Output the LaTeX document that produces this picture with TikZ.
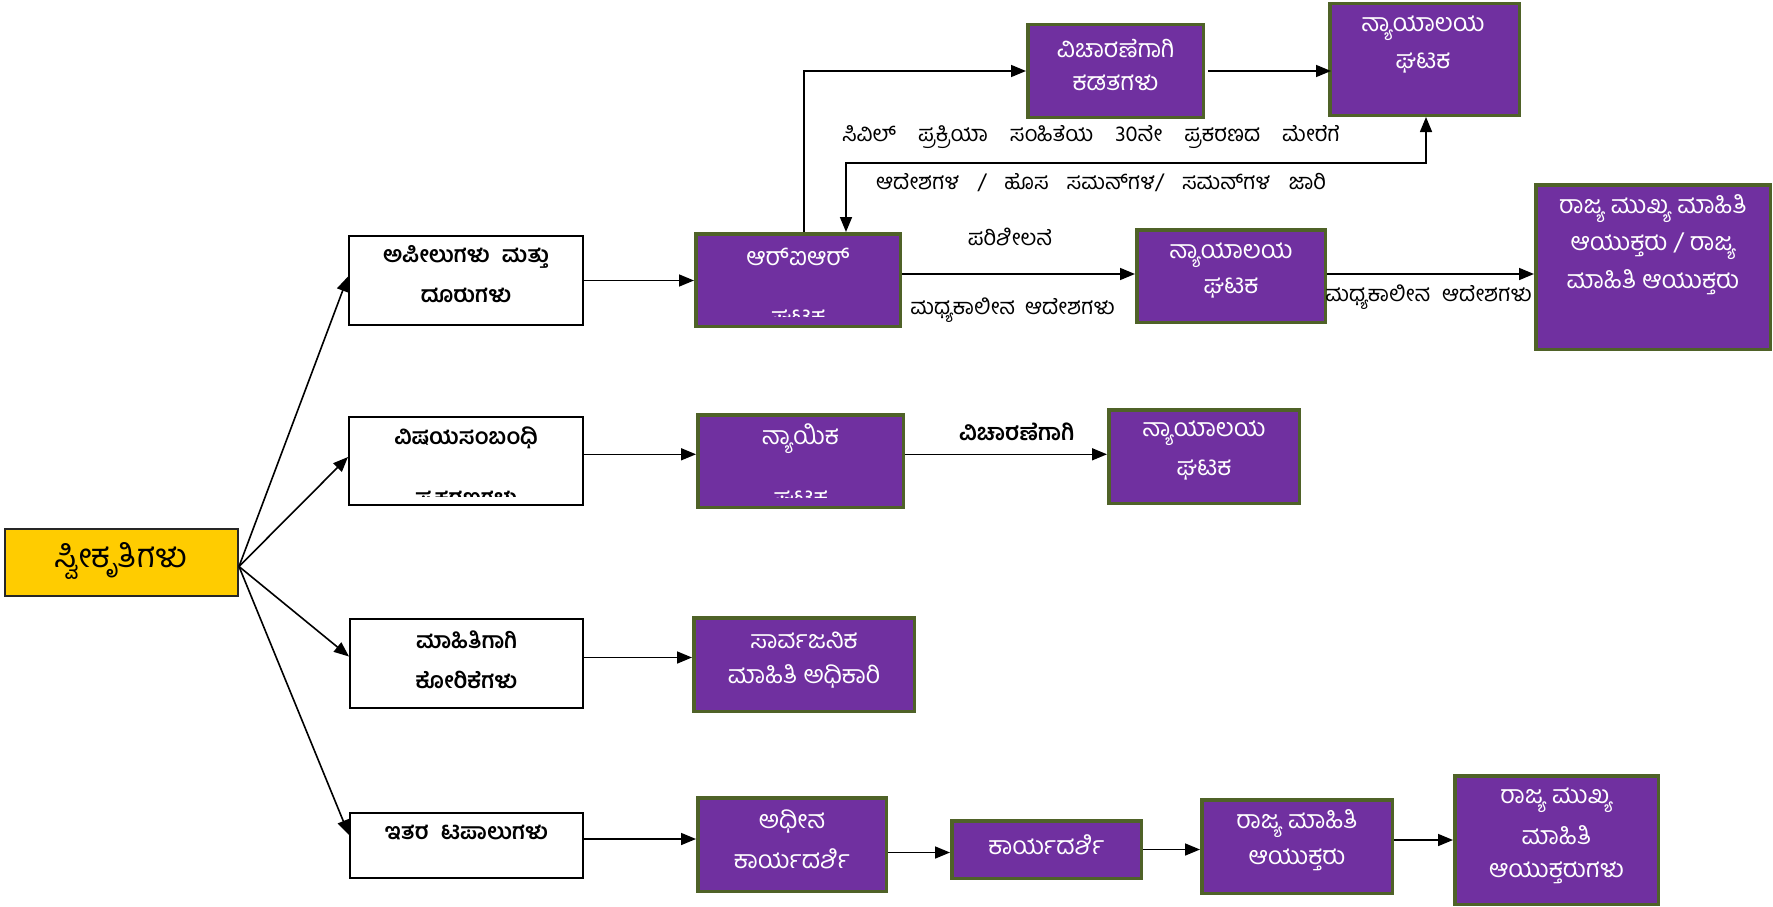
\documentclass[tikz,border=0pt]{standalone}
\usepackage{fontspec}
\newfontfamily\kn[Script=Kannada]{Hind Mysuru}
\newcommand\wordsp[1]{\spaceskip #1\relax}
\usetikzlibrary{arrows.meta,calc}
\definecolor{purp}{HTML}{7030A0}
\definecolor{olivebd}{HTML}{4F6228}
\definecolor{gold}{HTML}{FFCC00}
\begin{document}
\begin{tikzpicture}[x=1pt,y=-1pt,
  wbox/.style={draw=black,line width=1.8pt,fill=white,rectangle,inner sep=0pt},
  pbox/.style={draw=olivebd,line width=3.5pt,fill=purp,rectangle,inner sep=0pt},
  ybox/.style={draw=black!85,line width=1.8pt,fill=gold,rectangle,inner sep=0pt},
  ptx/.style={text=white,font={\kn\fontsize{25}{28}\selectfont},inner sep=0pt},
  wtx/.style={text=black,font={\kn\bfseries\fontsize{22.5}{26}\selectfont\wordsp{12pt}},inner sep=0pt},
  ytx/.style={text=black,font={\kn\fontsize{33}{36}\selectfont},inner sep=0pt},
  lbl/.style={text=black,font={\kn\fontsize{22}{26}\selectfont},inner sep=0pt},
  blbl/.style={text=black,font={\kn\bfseries\fontsize{23}{26}\selectfont},inner sep=0pt},
  arr/.style={line width=1.6pt,-{Triangle[length=15pt,width=12pt]}},
  arrb/.style={line width=1.6pt,{Triangle[length=15pt,width=12pt]}-{Triangle[length=15pt,width=12pt]}},
]
\fill[white] (0,0) rectangle (1773,907);
\useasboundingbox (0,0) rectangle (1773,907);

% boxes
\node[ybox,minimum width=233.2,minimum height=67.2] (yel) at (121.5,562.5) {};
\node[wbox,minimum width=234.2,minimum height=89.2] (box1) at (466,280.5) {};
\node[wbox,minimum width=234.2,minimum height=88.2] (box2) at (466,461) {};
\node[wbox,minimum width=233.2,minimum height=89.2] (box3) at (466.5,663.5) {};
\node[wbox,minimum width=233.2,minimum height=65.2] (box4) at (466.5,845.5) {};
\node[pbox,minimum width=204.5,minimum height=92.5] (rir) at (798,280) {};
\node[pbox,minimum width=175.5,minimum height=92.5] (vich) at (1115.5,71) {};
\node[pbox,minimum width=189.5,minimum height=111.5] (courtTop) at (1424.5,59.5) {};
\node[pbox,minimum width=188.5,minimum height=92.5] (courtMid) at (1231,276) {};
\node[pbox,minimum width=234.5,minimum height=164.5] (sic) at (1653,267) {};
\node[pbox,minimum width=205.5,minimum height=92.5] (nyayika) at (800.5,461) {};
\node[pbox,minimum width=190.5,minimum height=93.5] (court2) at (1204,456.5) {};
\node[pbox,minimum width=220.5,minimum height=93.5] (pio) at (804,664.5) {};
\node[pbox,minimum width=188.5,minimum height=93.5] (adheena) at (792,844.5) {};
\node[pbox,minimum width=189.5,minimum height=57.5] (karya) at (1046.5,849.5) {};
\node[pbox,minimum width=190.5,minimum height=93.5] (smahiti) at (1297,846.5) {};
\node[pbox,minimum width=203.5,minimum height=128.5] (smukhya) at (1556.5,840) {};

% texts in boxes
\node[ytx] (tyel) at (120.6,561) {ಸ್ವೀಕೃತಿಗಳು};
\node[wtx] (t1a) at (466,257) {ಅಪೀಲುಗಳು ಮತ್ತು};
\node[wtx] (t1b) at (466,295) {ದೂರುಗಳು};
\node[wtx] (t2a) at (466,438) {ವಿಷಯಸಂಬಂಧಿ};
\begin{scope}
\clip (350,420) rectangle (582,496.5);
\node[wtx,anchor=base] (t2b) at (466,505) {ಪ್ರಕರಣಗಳು};
\end{scope}
\node[wtx] (t3a) at (466.5,640) {ಮಾಹಿತಿಗಾಗಿ};
\node[wtx] (t3b) at (466.5,680) {ಕೋರಿಕೆಗಳು};
\node[wtx] (t4a) at (466.5,833) {ಇತರ ಟಪಾಲುಗಳು};

\node[ptx] (trira) at (798,256.7) {ಆರ್^^^^200cಐಆರ್};
\begin{scope}
\clip (697,236) rectangle (899,316.5);
\node[ptx,anchor=base] (trirb) at (798,325) {ಘಟಕ};
\end{scope}
\node[ptx] (tvicha) at (1115.5,48.3) {ವಿಚಾರಣೆಗಾಗಿ};
\node[ptx] (tvichb) at (1115.5,83.3) {ಕಡತಗಳು};
\node[ptx] (tcta) at (1423,28.3) {ನ್ಯಾಯಾಲಯ};
\node[ptx] (tctb) at (1423,63.3) {ಘಟಕ};
\node[ptx] (tcma) at (1231,255) {ನ್ಯಾಯಾಲಯ};
\node[ptx] (tcmb) at (1231,288.3) {ಘಟಕ};
\node[ptx] (tsica) at (1653,208.3) {ರಾಜ್ಯ ಮುಖ್ಯ ಮಾಹಿತಿ};
\node[ptx] (tsicb) at (1653,246) {ಆಯುಕ್ತರು / ರಾಜ್ಯ};
\node[ptx] (tsicc) at (1653,282) {ಮಾಹಿತಿ ಆಯುಕ್ತರು};
\node[ptx] (tnya) at (800.5,438.3) {ನ್ಯಾಯಿಕ};
\begin{scope}
\clip (699,417) rectangle (902,497.5);
\node[ptx,anchor=base] (tnyb) at (800.5,506) {ಘಟಕ};
\end{scope}
\node[ptx] (tc2a) at (1204,433.3) {ನ್ಯಾಯಾಲಯ};
\node[ptx] (tc2b) at (1204,470) {ಘಟಕ};
\node[ptx] (tpioa) at (804,640) {ಸಾರ್ವಜನಿಕ};
\node[ptx] (tpiob) at (804,676.7) {ಮಾಹಿತಿ ಅಧಿಕಾರಿ};
\node[ptx] (tada) at (792,821.7) {ಅಧೀನ};
\node[ptx] (tadb) at (792,858.3) {ಕಾರ್ಯದರ್ಶಿ};
\node[ptx] (tkar) at (1046.5,845) {ಕಾರ್ಯದರ್ಶಿ};
\node[ptx] (tsma) at (1297,823.3) {ರಾಜ್ಯ ಮಾಹಿತಿ};
\node[ptx] (tsmb) at (1297,860) {ಆಯುಕ್ತರು};
\node[ptx] (tsua) at (1556.5,800) {ರಾಜ್ಯ ಮುಖ್ಯ};
\node[ptx] (tsub) at (1556.5,835) {ಮಾಹಿತಿ};
\node[ptx] (tsuc) at (1556.5,872.7) {ಆಯುಕ್ತರುಗಳು};

% connector labels
\node[lbl,font={\kn\fontsize{22}{26}\selectfont\wordsp{22pt}}] (lcivil) at (1091,136.7) {ಸಿವಿಲ್ ಪ್ರಕ್ರಿಯಾ ಸಂಹಿತೆಯ 30ನೇ ಪ್ರಕರಣದ ಮೇರೆಗೆ};
\node[lbl,font={\kn\fontsize{22}{26}\selectfont\wordsp{18pt}}] (lorders) at (1101,183) {ಆದೇಶಗಳ / ಹೊಸ ಸಮನ್^^^^200cಗಳ/ ಸಮನ್^^^^200cಗಳ ಜಾರಿ};
\node[lbl] (lpari) at (1010,237) {ಪರಿಶೀಲನೆ};
\node[lbl,font={\kn\fontsize{22}{26}\selectfont\wordsp{10pt}}] (lmadh1) at (1012.5,310) {ಮಧ್ಯಕಾಲೀನ ಆದೇಶಗಳು};
\node[lbl,font={\kn\fontsize{22}{26}\selectfont\wordsp{12pt}}] (lmadh2) at (1428.6,296.7) {ಮಧ್ಯಕಾಲೀನ ಆದೇಶಗಳು};
\node[blbl] (lvich) at (1016.5,431.7) {ವಿಚಾರಣೆಗಾಗಿ};

% connectors
\draw[arr] ([yshift=-4pt]yel.east) -- ([yshift=4pt]box1.west);
\draw[arr] ([yshift=-4pt]yel.east) -- ([yshift=4pt]box2.west);
\draw[arr] ([yshift=-4pt]yel.east) -- ([yshift=7pt]box3.west);
\draw[arr] ([yshift=-4pt]yel.east) -- ([yshift=10.5pt]box4.west);
\draw[arr] (box1.east) -- (box1.east -| rir.west);
\draw[arr] ([yshift=6.7pt]box2.east) -- ([yshift=6.7pt]box2.east -| nyayika.west);
\draw[arr] ([yshift=6pt]box3.east) -- ([yshift=6pt]box3.east -| pio.west);
\draw[arr] ([yshift=6.5pt]box4.east) -- ([yshift=6.5pt]box4.east -| adheena.west);
\draw[arr] ([yshift=-8pt]adheena.east) -- ([yshift=-8pt]adheena.east -| karya.west);
\draw[arr] (karya.east) -- (karya.east -| smahiti.west);
\draw[arr] (smukhya.west -| smahiti.east) -- (smukhya.west);
\draw[arr] ([yshift=6pt]rir.east) -- ([yshift=6pt]rir.east -| courtMid.west);
\draw[arr] ([yshift=2pt]courtMid.east) -- ([yshift=2pt]courtMid.east -| sic.west);
\draw[arr] ([xshift=6pt]rir.north) |- (vich.west);
\draw[arr] ([xshift=3pt]vich.east) -- ([xshift=3pt]vich.east -| courtTop.west);
\draw[arrb] ([xshift=1.5pt]courtTop.south) -- ++(0,45.7) -| ([xshift=48pt]rir.north);
\draw[arr] ([yshift=6.7pt]nyayika.east) -- ([yshift=6.7pt]nyayika.east -| court2.west);
\end{tikzpicture}
\end{document}
